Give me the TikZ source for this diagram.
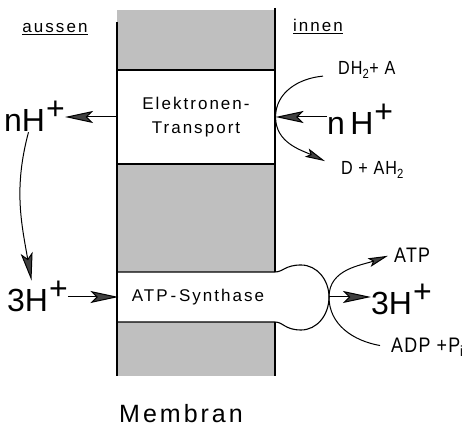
\documentclass[tikz,border=0pt]{standalone}
\usepackage{fontspec}
\setmainfont{Liberation Sans}
\newfontfamily\wideface{Liberation Sans}[LetterSpace=12]
\newfontfamily\narrowface{Liberation Sans}[FakeStretch=0.85,LetterSpace=6]
\newcommand\protonsup{\kern1pt\raisebox{0.4em}{+}}
\usetikzlibrary{arrows.meta, positioning}

\begin{document}
\begin{tikzpicture}[x=1pt,y=1pt,
    membr/.style={fill=black!25,draw=none},
    edge/.style={line width=1.1pt},
    protbox/.style={draw,line width=1.1pt,fill=white,minimum width=158pt,
                    inner sep=0pt,align=center,font=\wideface\fontsize{17}{24}\selectfont},
    side/.style={font=\narrowface\fontsize{19}{21}\selectfont,inner sep=0pt},
    ion/.style={font=\fontsize{32}{36}\selectfont,inner sep=0pt},
    chem/.style={font=\narrowface\fontsize{21}{24}\selectfont,inner sep=0pt},
    arr/.style={-{Stealth[length=28pt,width=12pt,inset=6pt,fill=black!75]},line width=1pt},
    sarr/.style={-{Stealth[length=20pt,width=9pt,inset=4pt,fill=black!75]},line width=1pt}
  ]
  \useasboundingbox (0,0) rectangle (469,430);
  % membrane
  \fill[membr] (117,54) rectangle (275,420);
  \node[protbox,minimum height=94pt] (et) at (196,313) {Elektronen-\\Transport};
  \filldraw[edge,fill=white] (117,158) -- (275,158)
     .. controls (283,158) and (285,165) .. (301,165)
     .. controls (317,165) and (329,150) .. (329,133)
     .. controls (329,115) and (317,100) .. (301,100)
     .. controls (285,100) and (283,108) .. (275,108) -- (117,108);
  \node[protbox,draw=none,fill=none,minimum height=50pt] (atp) at (198,133) {ATP\,-\,Synthase};
  \coordinate (knob) at (329,133);
  \draw[edge] (117,408) -- (117,54);
  \draw[edge] (275,422) -- (275,158);
  \draw[edge] (275,108) -- (275,54);

  % labels
  \node[side,font=\wideface\fontsize{17}{20}\selectfont,anchor=base] (aussen) at (55,397) {\underline{aussen}};
  \node[side,font=\wideface\fontsize{17}{20}\selectfont,anchor=base] (innen) at (318,398) {\underline{innen}};
  \node[ion,anchor=base west] (nHout) at (4,298) {nH\protonsup};
  \node[ion,anchor=base west] (nHin) at (327,295) {n\,H\protonsup};
  \node[side,anchor=base west] (dha) at (338,355) {DH\textsubscript{2}+ A};
  \node[side,anchor=base west] (dah) at (341,255) {D + AH\textsubscript{2}};
  \node[ion,anchor=base west] (hout) at (7,118) {3H\protonsup};
  \node[ion,anchor=base west] (hin) at (371,115) {3H\protonsup};
  \node[chem,anchor=base west] (atpout) at (394,167) {ATP};
  \node[chem,anchor=base west] (adp) at (391,77) {ADP +P\textsubscript{i}};
  \node[font=\wideface\fontsize{25}{30}\selectfont,anchor=base] (membran) at (181,7) {Membran};

  % proton and substrate flows
  \draw[arr] (et.west) -- (et.west -| nHout.east);
  \draw[arr] (nHin.west |- et.east) -- (et.east);
  \draw[sarr] ([xshift=-15pt,yshift=-6pt]dha.west) to[out=185,in=90] (et.east)
     to[out=-90,in=155] ([xshift=-16pt,yshift=9pt]dah.west);
  \draw[arr] ([xshift=-6pt]nHout.south) to[out=-105,in=100] ([xshift=-6pt]hout.north);
  \draw[arr] (hout.east |- atp.west) -- (atp.west);
  \draw[arr] (knob) -- (knob -| hin.west);
  \draw[sarr] ([xshift=-11pt,yshift=2pt]adp.west) to[out=170,in=-90] (knob)
     to[out=90,in=200] ([xshift=-6pt]atpout.west);
\end{tikzpicture}
\end{document}
